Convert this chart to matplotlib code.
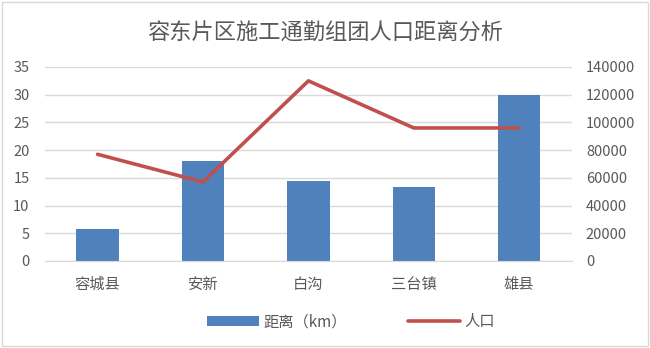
import matplotlib.pyplot as plt
from matplotlib.patches import Rectangle

plt.rcParams['font.family'] = ['Noto Sans CJK SC', 'DejaVu Sans']

categories = ['容城县', '安新', '白沟', '三台镇', '雄县']
distance_km = [5.7, 18, 14.5, 13.4, 30]
population = [77000, 57000, 130000, 96000, 96000]

txt = '#595959'
fig = plt.figure(figsize=(6.5, 3.48), dpi=100)
ax = fig.add_axes([0.069, 0.25, 0.811, 0.5575])
ax2 = ax.twinx()

x = range(len(categories))
bars = ax.bar(x, distance_km, width=0.4, color='#4F81BD', zorder=2, label='距离（km）')
line, = ax2.plot(x, population, color='#C0504D', lw=2.6, solid_capstyle='round', label='人口')

ax.set_xlim(-0.5, len(categories) - 0.5)
ax.set_ylim(0, 35)
ax.set_yticks(range(0, 36, 5))
ax2.set_ylim(0, 140000)
ax2.set_yticks(range(0, 140001, 20000))
ax.set_xticks(list(x))
ax.set_xticklabels(categories)
ax.grid(axis='y', color='#D9D9D9', lw=1, zorder=0)
ax.set_axisbelow(True)

for a in (ax, ax2):
    for s in a.spines.values():
        s.set_visible(False)
    a.tick_params(length=0, colors=txt, labelsize=10.5)
ax.tick_params(axis='y', pad=11)
ax2.tick_params(axis='y', pad=10)
ax.tick_params(axis='x', pad=11, labelsize=11)
ax.spines['bottom'].set_visible(True)
ax.spines['bottom'].set_color('#D9D9D9')

fig.text(0.5, 0.905, '容东片区施工通勤组团人口距离分析', ha='center', va='center',
         fontsize=16, color=txt)
fig.legend([bars, line], ['距离（km）', '人口'], loc='center', bbox_to_anchor=(0.54, 0.075),
           ncol=2, frameon=False, fontsize=11, labelcolor=txt, handlelength=3.4,
           columnspacing=4, handletextpad=0.3)

fig.patches.append(Rectangle((0.003, 0.005), 0.994, 0.99, transform=fig.transFigure,
                             fill=False, edgecolor='#D9D9D9', lw=1))
fig.savefig('out.png', dpi=100)
